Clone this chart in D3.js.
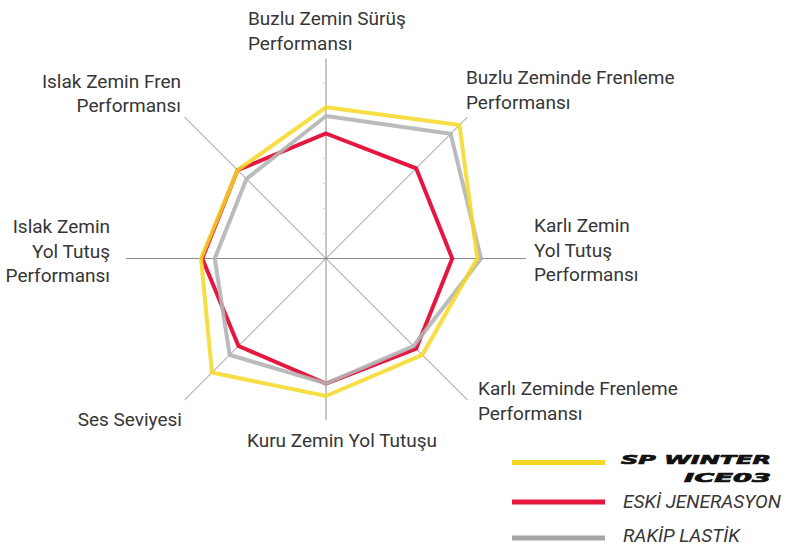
<!DOCTYPE html>
<html>
<head>
<meta charset="utf-8">
<script src="https://cdn.jsdelivr.net/npm/d3@7"></script>
<style>
  html, body { margin: 0; padding: 0; background: #fff; }
  svg { display: block; }
  .axis-label { font-family: Roboto, "Open Sans", sans-serif; font-weight: 400; font-size: 19px; fill: #363636; }
  .legend-label { font-family: Roboto, "Open Sans", sans-serif; font-weight: 400; font-style: italic; font-size: 19px; fill: #363636; }
  .logo { font-family: "DejaVu Sans", sans-serif; font-weight: bold; font-style: italic; font-size: 13px; fill: #111; stroke: #111; stroke-width: 0.7; }
</style>
</head>
<body>
<div id="chart"></div>
<script>
// Radar axes, clockwise from the top
const axisLabels = [
  ["Buzlu Zemin Sürüş", "Performansı"],
  ["Buzlu Zeminde Frenleme", "Performansı"],
  ["Karlı Zemin", "Yol Tutuş", "Performansı"],
  ["Karlı Zeminde Frenleme", "Performansı"],
  ["Kuru Zemin Yol Tutuşu"],
  ["Ses Seviyesi"],
  ["Islak Zemin", "Yol Tutuş", "Performansı"],
  ["Islak Zemin Fren", "Performansı"]
];

// Scores (scale 0-8)
const iceValues   = [6.05, 7.55, 6.05, 5.45, 5.5, 6.45, 5.0, 5.0];
const oldValues   = [5.0, 5.1, 5.05, 5.1, 5.0, 4.95, 4.95, 5.0];
const rivalValues = [5.7, 7.05, 6.2, 4.95, 5.0, 5.45, 4.45, 4.5];

const seriesNames = ["SP WINTER ICE03", "ESKİ JENERASYON", "RAKİP LASTİK"];
const scaleMax = 8;

const width = 785, height = 547;
const cx = 326, cy = 258.5;
const radius = 200;

const svg = d3.select("#chart").append("svg")
  .attr("width", width)
  .attr("height", height);

const r = d3.scaleLinear().domain([0, scaleMax]).range([0, radius]);
const angle = (i) => (i * 2 * Math.PI) / axisLabels.length;
const px = (i, v) => cx + r(v) * Math.sin(angle(i));
const py = (i, v) => cy - r(v) * Math.cos(angle(i));

// Spokes (the bottom one stops short of its label)
const spokeEnd = [8, 8, 8, 8, 6.45, 8, 8, 8];
svg.append("g").selectAll("line")
  .data(axisLabels)
  .join("line")
  .attr("x1", cx).attr("y1", cy)
  .attr("x2", (d, i) => px(i, spokeEnd[i]))
  .attr("y2", (d, i) => py(i, spokeEnd[i]))
  .attr("stroke", "#8c8c8c")
  .attr("stroke-width", 1);

// Small tick marks along the vertical axis
svg.append("g").selectAll("line")
  .data(d3.range(1, scaleMax))
  .join("line")
  .attr("x1", cx - 3).attr("x2", cx)
  .attr("y1", (d) => cy - r(d)).attr("y2", (d) => cy - r(d))
  .attr("stroke", "#cfcfcf")
  .attr("stroke-width", 1);

// Series polygons
const series = [
  { name: seriesNames[1], values: oldValues, color: "#e5173f", opacity: 1 },
  { name: seriesNames[2], values: rivalValues, color: "#b4b4b4", opacity: 0.9 },
  { name: seriesNames[0], values: iceValues, color: "#f4d823", opacity: 0.85 }
];

const radar = d3.lineRadial()
  .angle((d, i) => angle(i))
  .radius((d) => r(d))
  .curve(d3.curveLinearClosed);

svg.append("g")
  .attr("transform", `translate(${cx},${cy})`)
  .selectAll("path")
  .data(series)
  .join("path")
  .attr("d", (d) => radar(d.values))
  .attr("fill", "none")
  .attr("stroke", (d) => d.color)
  .attr("stroke-width", 4)
  .attr("stroke-opacity", (d) => d.opacity)
  .attr("stroke-linejoin", "miter");

// Axis labels
const labelPlacement = [
  { x: 248, y: 25, anchor: "start" },
  { x: 466, y: 84, anchor: "start" },
  { x: 534, y: 232, anchor: "start" },
  { x: 478, y: 395, anchor: "start" },
  { x: 247, y: 447, anchor: "start" },
  { x: 182, y: 426, anchor: "end" },
  { x: 110, y: 233, anchor: "end" },
  { x: 181, y: 87.5, anchor: "end" }
];
const lineGap = 24.5;

const labels = svg.append("g").selectAll("text")
  .data(axisLabels)
  .join("text")
  .attr("class", "axis-label")
  .attr("text-anchor", (d, i) => labelPlacement[i].anchor);

labels.selectAll("tspan")
  .data((d, i) => d.map((t, k) => ({ t, k, i })))
  .join("tspan")
  .attr("x", (d) => labelPlacement[d.i].x)
  .attr("y", (d) => labelPlacement[d.i].y + d.k * lineGap)
  .text((d) => d.t);

// Legend
const legend = svg.append("g");
const legendRows = [
  { color: "#f4d823", y: 462.5 },
  { color: "#e5173f", y: 502 },
  { color: "#a6a6a6", y: 538 }
];
legend.selectAll("line")
  .data(legendRows)
  .join("line")
  .attr("x1", 512).attr("x2", 605)
  .attr("y1", (d) => d.y).attr("y2", (d) => d.y)
  .attr("stroke", (d) => d.color)
  .attr("stroke-width", 5);

// Brand logo set as two lines of heavy italic text
const logoWords = seriesNames[0].split(" ");
legend.append("text")
  .attr("class", "logo")
  .attr("x", 621).attr("y", 463.5)
  .attr("textLength", 150)
  .attr("lengthAdjust", "spacingAndGlyphs")
  .text(logoWords[0] + " " + logoWords[1]);
legend.append("text")
  .attr("class", "logo")
  .attr("x", 684).attr("y", 482)
  .attr("textLength", 87)
  .attr("lengthAdjust", "spacingAndGlyphs")
  .text(logoWords[2]);

legend.append("text")
  .attr("class", "legend-label")
  .attr("x", 623).attr("y", 508)
  .text(seriesNames[1]);
legend.append("text")
  .attr("class", "legend-label")
  .attr("x", 623).attr("y", 541.5)
  .text(seriesNames[2]);
</script>
</body>
</html>
